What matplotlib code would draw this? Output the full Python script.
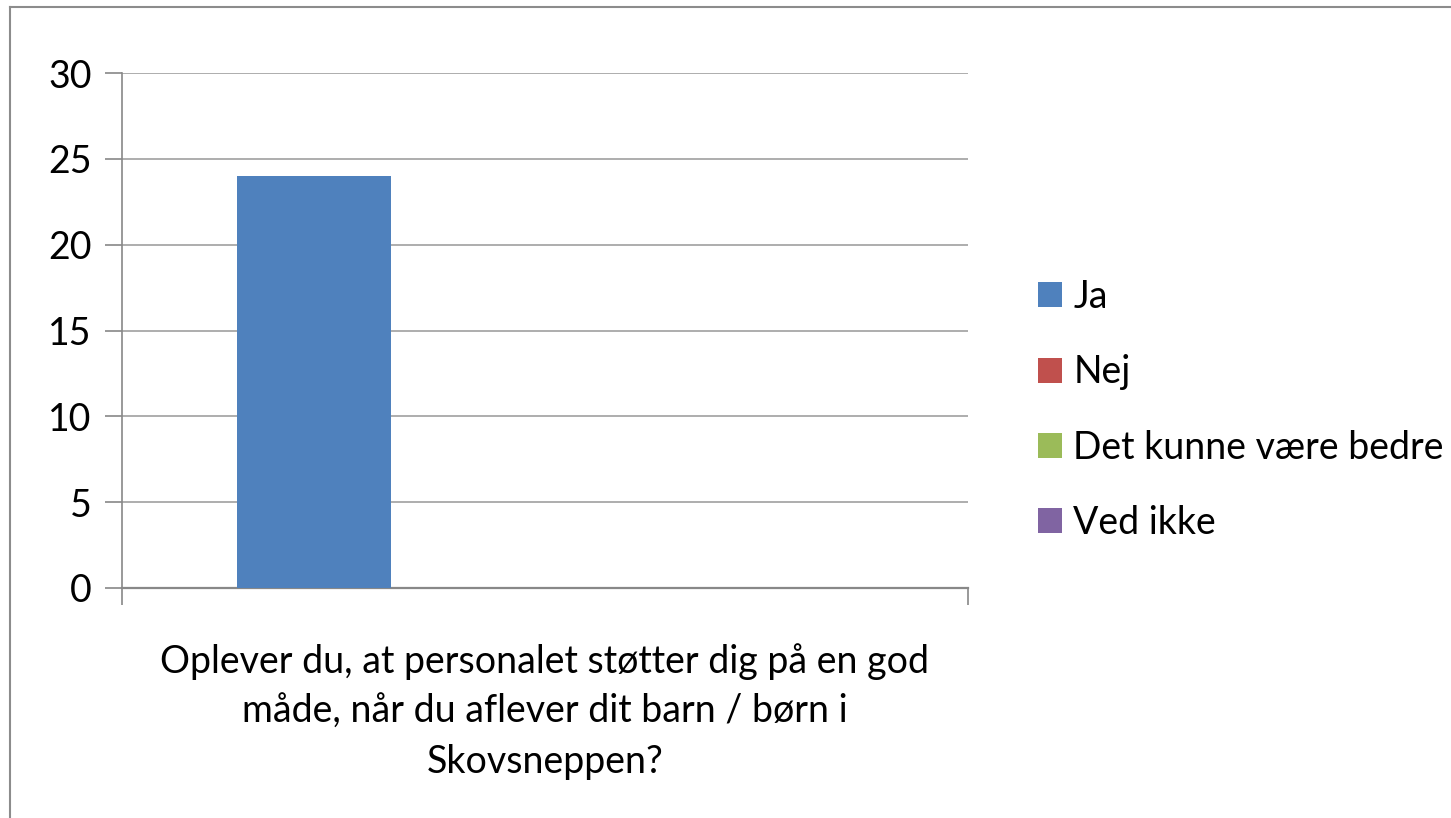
import numpy as np
import matplotlib
matplotlib.use("Agg")
from matplotlib import pyplot as plt
from matplotlib.lines import Line2D

series = ['Ja', 'Nej', 'Det kunne være bedre', 'Ved ikke']
values = [24, 0, 0, 0]
colors = ['#4F81BD', '#C0504D', '#9BBB59', '#8064A2']
category = 'Oplever du, at personalet støtter dig på en god\nmåde, når du aflever dit barn / børn i\nSkovsneppen?'
yticks = [0, 5, 10, 15, 20, 25, 30]

plt.rcParams['font.family'] = ['Lato', 'DejaVu Sans']

fig = plt.figure(figsize=(14.51, 8.18), dpi=100)
ax = fig.add_axes([122 / 1451, 1 - 588 / 818, 846 / 1451, 515 / 818])

# excel style clustered bars, gap width 150%
n = len(series)
w = 1 / (n + 1.5)
for i, (name, v, c) in enumerate(zip(series, values, colors)):
    ax.bar(0.75 * w + (i + 0.5) * w, v, width=w, color=c, label=name, zorder=3)

ax.set_xlim(0, 1)
ax.set_ylim(0, 30)
ax.set_yticks(yticks)
ax.tick_params(axis='y', labelsize=27, length=12, width=1.2, color='#888888', pad=10)
ax.set_xticks([0, 1])
ax.set_xticklabels(['', ''])
ax.tick_params(axis='x', which='major', length=12, width=1.2, color='#888888')
ax.set_xticks([0.5], minor=True)
ax.set_xticklabels([category], minor=True, fontsize=27, linespacing=1.47)
ax.tick_params(axis='x', which='minor', length=0, pad=40)
ax.grid(axis='y', color='#a0a0a0', linewidth=1.2, zorder=0)
for s in ['top', 'right']:
    ax.spines[s].set_visible(False)
ax.spines['left'].set_color('#888888')
ax.spines['bottom'].set_color('#888888')
ax.spines['left'].set_linewidth(1.2)
ax.spines['bottom'].set_linewidth(1.6)

ax.legend(loc='center left', bbox_to_anchor=(1004 / 1451, 1 - 410 / 818),
          bbox_transform=fig.transFigure, frameon=False, fontsize=27,
          handlelength=0.65, handleheight=0.65, handletextpad=0.3, labelspacing=1.05)

# outer chart border
fig.add_artist(Line2D([10 / 1451, 10 / 1451], [0, 1 - 7 / 818], color='#8c8c8c', linewidth=1.5))
fig.add_artist(Line2D([10 / 1451, 1], [1 - 7 / 818, 1 - 7 / 818], color='#8c8c8c', linewidth=1.5))

fig.savefig('out.png', dpi=100)
